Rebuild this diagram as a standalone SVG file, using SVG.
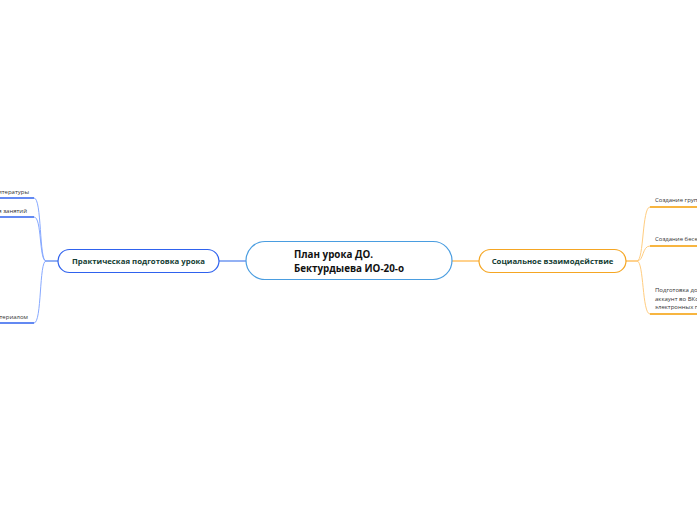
<svg xmlns="http://www.w3.org/2000/svg" width="697" height="520" viewBox="0 0 697 520">
<style>
text{font-family:"Open Sans","Noto Sans","Liberation Sans",sans-serif}
.main{font-size:9.8px;font-weight:bold;fill:#111}
.sub{font-size:7.8px;font-weight:bold;fill:#143d33}
.leaf{font-size:6px;fill:#333}
.bl{fill:none;stroke:#87a9ff;stroke-width:1}
.bu{fill:none;stroke:#2f62ee;stroke-width:1.6}
.ol{fill:none;stroke:#ffcd80;stroke-width:1}
.ou{fill:none;stroke:#f59c00;stroke-width:1.6}
</style>
<rect width="697" height="520" fill="#fff"/>
<g id="connectors">
<line x1="219" y1="261" x2="246" y2="261" stroke="#6f97f0" stroke-width="1.5"/>
<line x1="452" y1="261" x2="479" y2="261" stroke="#ffc266" stroke-width="1.5"/>
<line x1="45" y1="261" x2="58" y2="261" stroke="#6f97f0" stroke-width="1.5"/>
<line x1="626" y1="261" x2="638" y2="261" stroke="#ffc266" stroke-width="1.5"/>
<path class="bl" d="M46,261 C39,261 42,198 34,198"/>
<path class="bl" d="M46,261 C39,261 42,217 34,217"/>
<path class="bl" d="M46,261 C39,261 42,323 34,323"/>
<path class="ol" d="M637,261 C644,261 642,207 650,207"/>
<path class="ol" d="M637,261 C644,261 642,246 650,246"/>
<path class="ol" d="M637,261 C644,261 642,314 650,314"/>
</g>
<g id="center">
<rect x="246" y="241.5" width="206" height="38" rx="19" fill="#fff" stroke="#4a9de0" stroke-width="1.2"/>
<text class="main" x="294" y="258">План урока ДО.</text>
<text class="main" x="294" y="272">Бектурдыева ИО-20-о</text>
</g>
<g id="practical">
<rect x="58" y="249.5" width="161" height="23" rx="11.5" fill="#fff" stroke="#2f62ee" stroke-width="1.2"/>
<text class="sub" x="138.5" y="264" text-anchor="middle">Практическая подготовка урока</text>
</g>
<g id="social">
<rect x="479" y="249.5" width="147" height="23" rx="11.5" fill="#fff" stroke="#f5a623" stroke-width="1.2"/>
<text class="sub" x="552.5" y="264" text-anchor="middle">Социальное взаимодействие</text>
</g>
<g id="leaf-l1">
<line class="bu" x1="-5" y1="198" x2="34" y2="198"/>
<text class="leaf" x="29" y="194" text-anchor="end">Подбор литературы</text>
</g>
<g id="leaf-l2">
<line class="bu" x1="-5" y1="217" x2="34" y2="217"/>
<text class="leaf" x="27" y="213" text-anchor="end">Планирование проведения занятий</text>
</g>
<g id="leaf-l3">
<line class="bu" x1="-5" y1="323" x2="34" y2="323"/>
<text class="leaf" x="28" y="319" text-anchor="end">Работа с материалом</text>
</g>
<g id="leaf-r1">
<line class="ou" x1="650" y1="207" x2="702" y2="207"/>
<text class="leaf" x="655" y="202">Создание группы</text>
</g>
<g id="leaf-r2">
<line class="ou" x1="650" y1="246" x2="702" y2="246"/>
<text class="leaf" x="655" y="241">Создание беседы</text>
</g>
<g id="leaf-r3">
<line class="ou" x1="650" y1="314" x2="702" y2="314"/>
<text class="leaf" x="655" y="292">Подготовка документов</text>
<text class="leaf" x="655" y="300.5">аккаунт во ВКонтакте</text>
<text class="leaf" x="655" y="309">электронных пособий</text>
</g>
</svg>
